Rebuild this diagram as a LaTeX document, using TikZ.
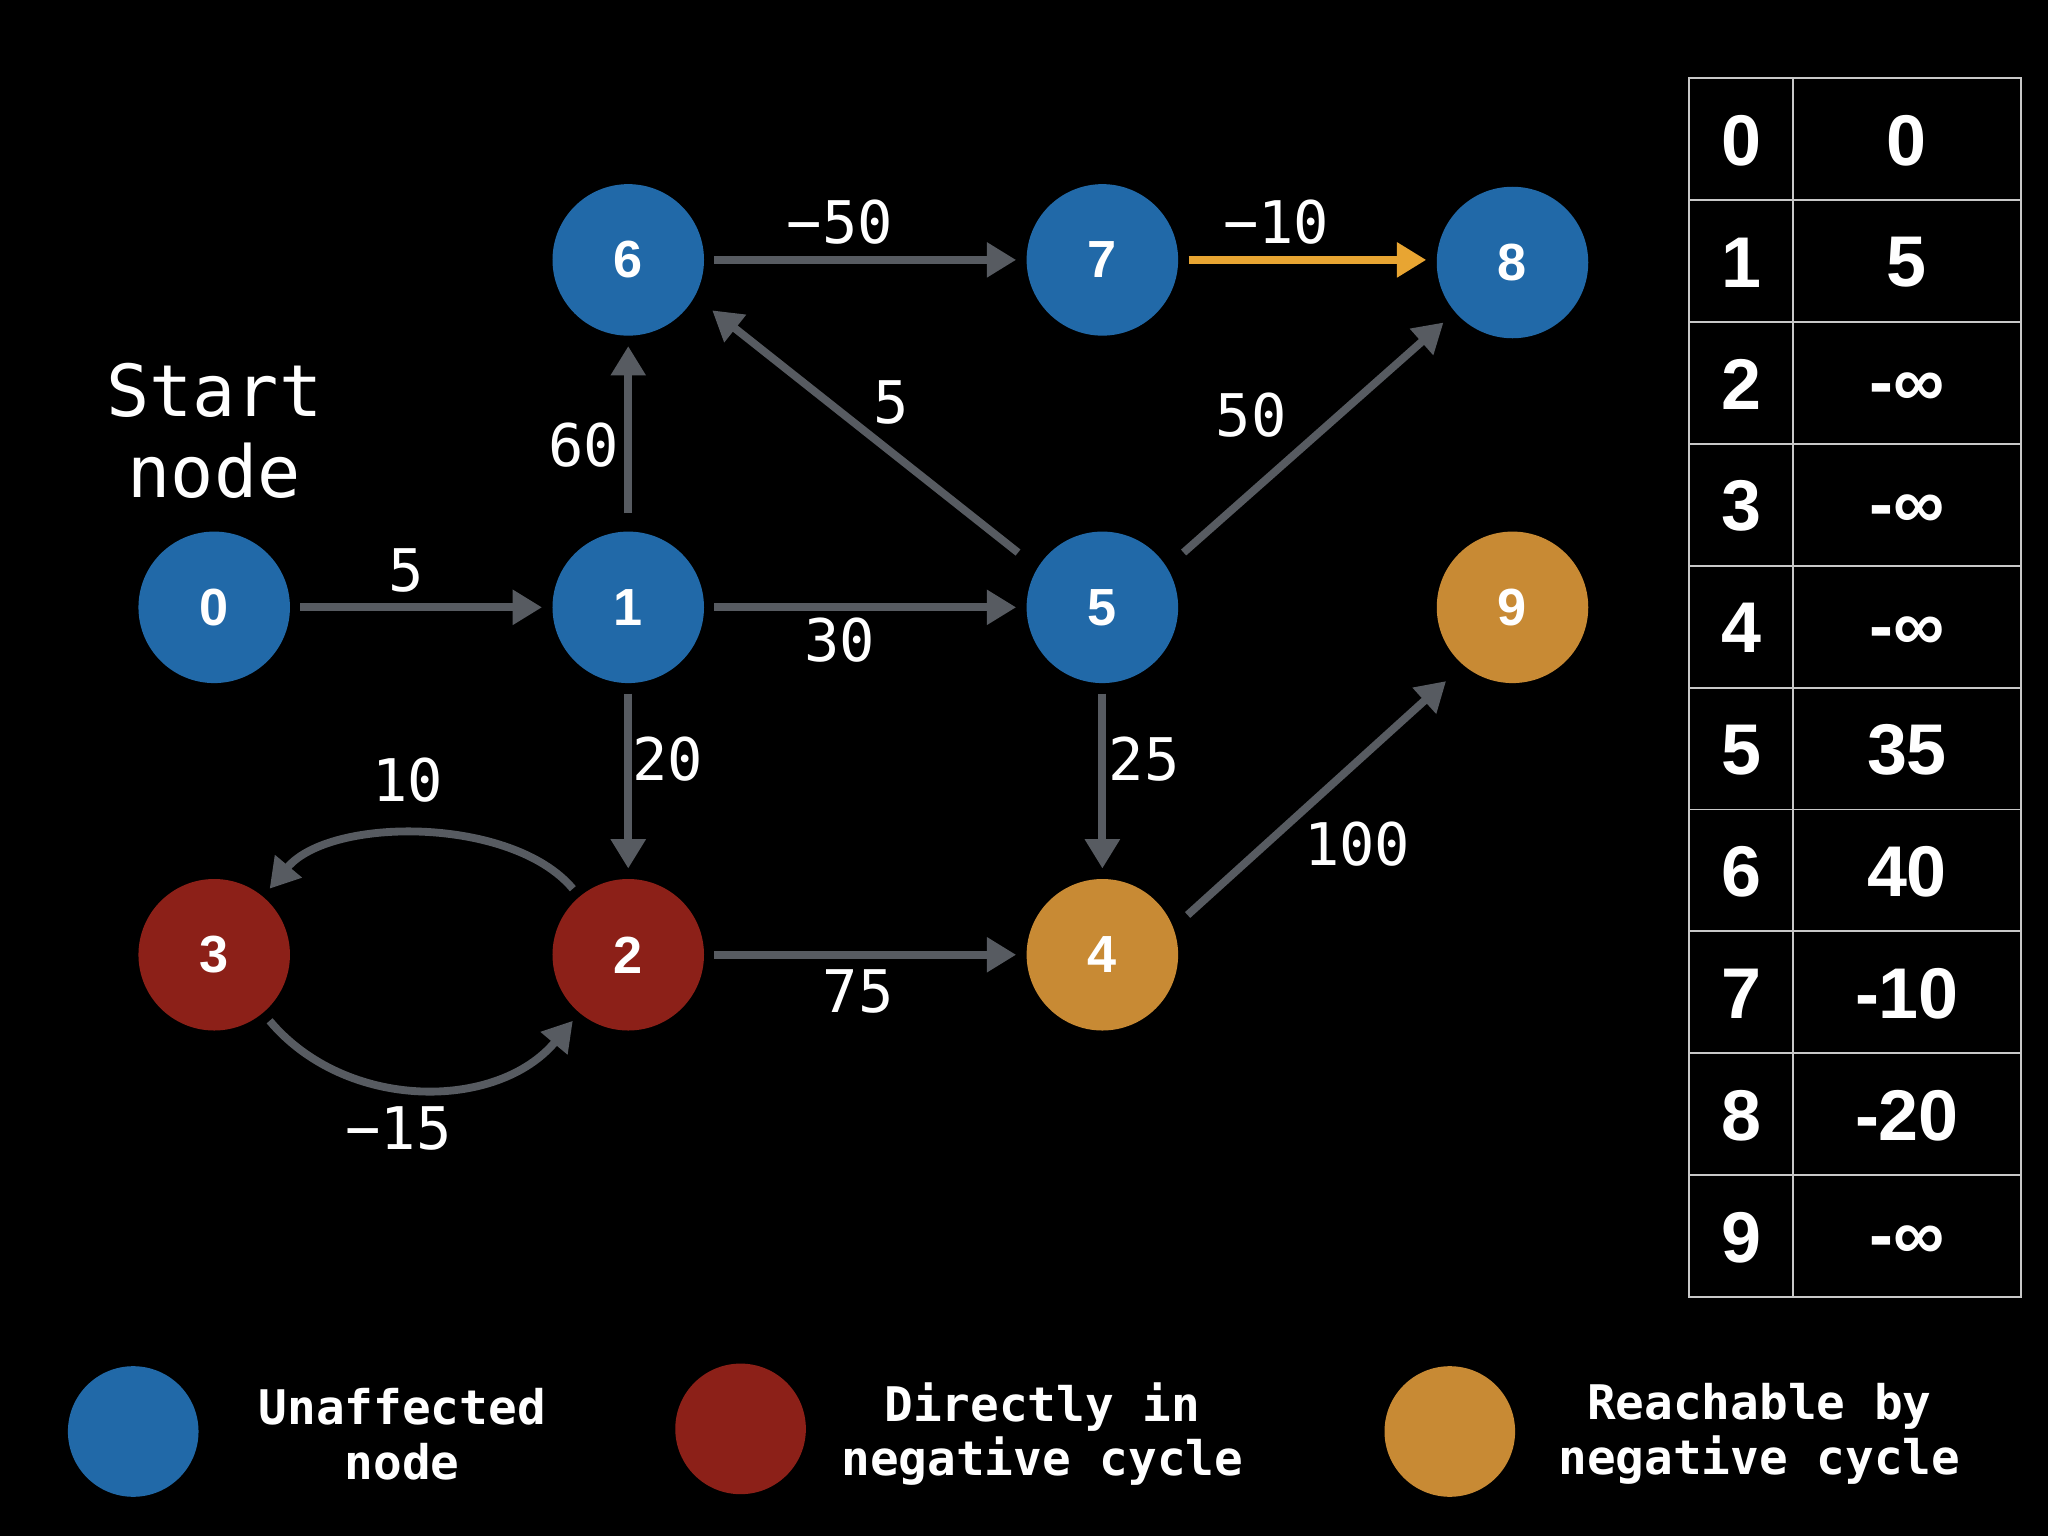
\documentclass[tikz,border=0pt]{standalone}
\usepackage{fontspec}
\setmainfont{DejaVu Sans Mono}
\newfontfamily\tabfont{Liberation Sans}
\newfontfamily\monofont{DejaVu Sans Mono}
\usetikzlibrary{arrows.meta,calc}
\definecolor{nblue}{RGB}{33,105,168}
\definecolor{nred}{RGB}{140,32,24}
\definecolor{norange}{RGB}{200,138,52}
\definecolor{egray}{RGB}{87,91,97}
\definecolor{eorange}{RGB}{232,165,50}
\definecolor{tgray}{RGB}{200,200,200}
\begin{document}
\begin{tikzpicture}[x=0.5pt,y=0.5pt,
  vert/.style={circle,minimum size=58pt,inner sep=0pt,outer sep=4pt,text=white,
    font=\tabfont\bfseries\fontsize{20}{20}\selectfont},
  legdot/.style={circle,minimum size=50pt,inner sep=0pt},
  edge/.style={draw=egray,line width=3pt,-{Triangle[length=11.25pt,width=12.8pt]}},
  hotedge/.style={edge,draw=eorange,-{Triangle[length=11.25pt,width=12.8pt,fill=eorange]}},
  elabel/.style={text=white,inner sep=0pt,font=\monofont\fontsize{22.5}{24}\selectfont},
  legtext/.style={text=white,inner sep=0pt,align=center,font=\monofont\bfseries\fontsize{18.25}{21}\selectfont},
  tabtxt/.style={text=white,inner sep=0pt,font=\tabfont\bfseries\fontsize{27.5}{28}\selectfont},
  tabline/.style={draw=tgray,line width=0.75pt}]
\fill[black] (0,0) rectangle (1568,1176);
\useasboundingbox (0,0) rectangle (1568,1176);

% graph nodes
\node[vert,fill=nblue] (n0) at (164,711) {0};
\node[vert,fill=nblue] (n1) at (481,711) {1};
\node[vert,fill=nblue] (n5) at (844,711) {5};
\node[vert,fill=norange] (n9) at (1158,711) {9};
\node[vert,fill=nblue] (n6) at (481,977) {6};
\node[vert,fill=nblue] (n7) at (844,977) {7};
\node[vert,fill=nblue] (n8) at (1158,975) {8};
\node[vert,fill=nred] (n3) at (164,445) {3};
\node[vert,fill=nred] (n2) at (481,445) {2};
\node[vert,fill=norange] (n4) at (844,445) {4};

\node[text=white,inner sep=0pt,align=center,font=\monofont\fontsize{27.5}{31}\selectfont] (start) at (164,846) {Start\\node};

% edges
\draw[edge] (n0) -- (n1);
\draw[edge] (n1) -- (n5);
\draw[edge] ($(n1)+(90:72)$) -- (n6);
\draw[edge] (n6) -- (n7);
\draw[hotedge] (n7) -- (n7 -| n8.west);
\draw[edge] (n1) -- (n2);
\draw[edge] (n5) -- (n4);
\draw[edge] (n2) -- (n4);
\draw[edge] ($(n5)+(147:77)$) -- ($(n6)+(-31:75)$);
\draw[edge] ($(n5)+(34:75)$) -- ($(n8)+(221:70)$);
\draw[edge] ($(n4)+(25:72)$) -- ($(n9)+(228:76)$);
\draw[edge] (n2) to[out=130,in=50,looseness=0.8] (n3);
\draw[edge] (n3) to[out=-50,in=230] (n2);

% edge labels
\node[elabel] (l01) at (311,739) {5};
\node[elabel] (l15) at (643,686) {30};
\node[elabel] (l16) at (447,835) {60};
\node[elabel] (l67) at (643,1006) {−50};
\node[elabel] (l78) at (977,1006) {−10};
\node[elabel] (l56) at (682,868) {5};
\node[elabel] (l58) at (958,858) {50};
\node[elabel] (l12) at (511,595) {20};
\node[elabel] (l54) at (876,595) {25};
\node[elabel] (l24) at (657,417) {75};
\node[elabel] (l49) at (1039,530) {100};
\node[elabel] (l23) at (312,579) {10};
\node[elabel] (l32) at (305,312) {−15};

% table
\draw[tabline] (1293,183) rectangle (1547,1116);
\draw[tabline] (1373,183) -- (1373,1116);
\foreach \r in {1,...,9} {
  \draw[tabline] (1293,{1116-93.3*\r}) -- (1547,{1116-93.3*\r});
}
\foreach \i/\v/\d in {0/0/0,1/5/0,2/-∞/4,3/-∞/4,4/-∞/4,5/35/0,6/40/0,7/-10/0,8/-20/0,9/-∞/4} {
  \node[tabtxt] (k\i) at (1333,{1116-93.3*(\i+0.5)-1}) {\i};
  \node[tabtxt] (v\i) at (1460,{1116-93.3*(\i+0.5)-1-\d}) {\v};
}

% legend
\node[legdot,fill=nblue] (d1) at (102,80) {};
\node[legdot,fill=nred] (d2) at (567,82) {};
\node[legdot,fill=norange] (d3) at (1110,80) {};
\node[legtext] (t1) at (308,78) {Unaffected\\node};
\node[legtext] (t2) at (798,78) {Directly in\\negative cycle};
\node[legtext] (t3) at (1347,78) {Reachable by\\negative cycle};
\end{tikzpicture}
\end{document}
